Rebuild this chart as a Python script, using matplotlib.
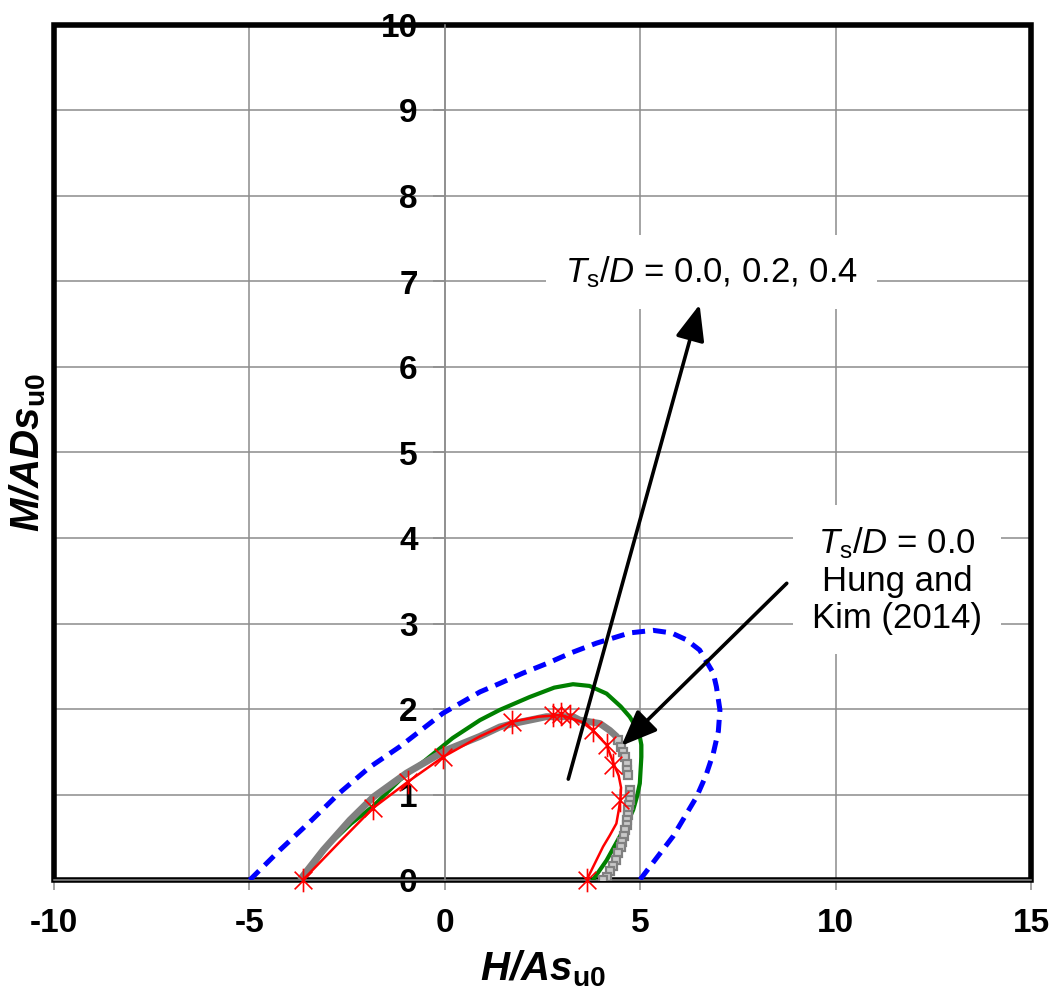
import matplotlib
matplotlib.use("Agg")
import matplotlib.pyplot as plt
from matplotlib.path import Path
from matplotlib.patches import Rectangle

plt.rcParams['font.family'] = ['Liberation Sans', 'DejaVu Sans']
plt.rcParams['axes.unicode_minus'] = False
plt.rcParams['mathtext.fontset'] = 'custom'
plt.rcParams['mathtext.rm'] = 'Liberation Sans'
plt.rcParams['mathtext.it'] = 'Liberation Sans:italic'
plt.rcParams['mathtext.bf'] = 'Liberation Sans:bold'
plt.rcParams['mathtext.bfit'] = 'Liberation Sans:bold:italic'

# ---------------- data ----------------
x_ticks = [-10, -5, 0, 5, 10, 15]
y_ticks = [0, 1, 2, 3, 4, 5, 6, 7, 8, 9, 10]

# Ts/D = 0.4 (blue dashed)
blue_x = [-4.99, -4.22, -3.45, -2.69, -1.92, -1.15, -0.05, 0.90, 1.41, 2.00, 2.60,
          3.25, 3.88, 4.73, 5.33, 5.80, 6.18, 6.52, 6.87, 6.95, 7.04, 7.00,
          6.87, 6.68, 6.44, 5.84, 4.99]
blue_y = [0.00, 0.35, 0.68, 1.02, 1.32, 1.56, 1.95, 2.20, 2.30, 2.42, 2.53,
          2.66, 2.77, 2.89, 2.92, 2.89, 2.81, 2.69, 2.42, 2.26, 1.99, 1.74,
          1.48, 1.22, 0.97, 0.51, 0.00]

# Ts/D = 0.2 (green)
green_x = [-3.65, -3.00, -2.40, -1.84, -1.15, -0.50, 0.20, 0.90, 1.41, 2.17,
           2.80, 3.28, 3.70, 4.14, 4.50, 4.73, 4.88, 4.98, 5.03, 5.03, 4.99, 4.92,
           4.82, 4.66, 4.48, 4.14, 3.79]
green_y = [0.00, 0.40, 0.66, 0.86, 1.17, 1.40, 1.66, 1.87, 1.99, 2.14,
           2.25, 2.29, 2.27, 2.18, 2.03, 1.91, 1.80, 1.70, 1.58, 1.44, 1.13, 0.98,
           0.82, 0.66, 0.51, 0.23, 0.00]

# Ts/D = 0.0 (grey, dense square markers)
grey_x = [-3.71, -3.11, -2.43, -1.83, -0.98, 0.04, 0.90, 1.41, 1.75, 2.60,
          3.28, 3.45, 3.97, 4.22, 4.39, 4.43]
grey_y = [0.00, 0.35, 0.70, 0.97, 1.25, 1.52, 1.68, 1.79, 1.83, 1.91,
          1.91, 1.87, 1.83, 1.75, 1.68, 1.64]
grey_mx = [4.43, 4.50, 4.56, 4.61, 4.65, 4.67, 4.69, 4.73, 4.73, 4.73, 4.72,
           4.70, 4.68, 4.67, 4.65, 4.62, 4.58, 4.54, 4.50, 4.44, 4.38, 4.31,
           4.22, 4.14, 4.04]
grey_my = [1.64, 1.56, 1.50, 1.44, 1.36, 1.29, 1.23, 1.05, 0.99, 0.94, 0.88,
           0.82, 0.76, 0.70, 0.64, 0.58, 0.51, 0.45, 0.39, 0.31, 0.23, 0.16,
           0.10, 0.04, 0.00]

# Hung and Kim (2014) (red line with asterisks)
red_x = [-3.63, -2.70, -1.84, -0.94, -0.04, 0.90, 1.71, 2.40, 2.98, 3.50,
         3.79, 4.14, 4.33, 4.45, 4.51, 4.50, 4.46, 4.39, 4.22, 4.05, 3.63]
red_y = [0.00, 0.44, 0.84, 1.15, 1.44, 1.68, 1.85, 1.91, 1.93, 1.85,
         1.75, 1.58, 1.35, 1.22, 1.08, 0.98, 0.84, 0.66, 0.52, 0.39, 0.00]
red_mx = [-3.63, -1.84, -0.94, -0.04, 1.71, 2.77, 2.98, 3.20, 3.79, 4.14, 4.31, 4.48, 3.63]
red_my = [0.00, 0.84, 1.15, 1.44, 1.85, 1.93, 1.94, 1.92, 1.75, 1.58, 1.35, 0.94, 0.00]

# annotations
label_all = r'$T_{\mathrm{s}}/D$ = 0.0, 0.2, 0.4'
label_hk = r'$T_{\mathrm{s}}/D$ = 0.0' + '\nHung and\nKim (2014)'
arrow1_tail, arrow1_tip = (3.16, 1.18), (6.52, 6.73)
arrow2_tail, arrow2_tip = (8.75, 3.47), (4.52, 1.57)
text1_pos = (6.83, 7.11)
text2_pos = (11.57, 3.51)

# ---------------- figure ----------------
fig = plt.figure(figsize=(10.57, 10.05), dpi=100)
ax = fig.add_axes([54/1057, 1 - 880/1005, (1031-54)/1057, (880-25)/1005])
ax.set_xlim(-10, 15)
ax.set_ylim(0, 10)

grid_c = '#8c8c8c'
ax.set_xticks(x_ticks)
ax.set_yticks(y_ticks)
ax.grid(True, color=grid_c, lw=1.1, zorder=0)
ax.set_axisbelow(True)

# y axis crossing at x = 0
ax.spines['left'].set_position(('data', 0))
ax.spines['left'].set_color(grid_c)
ax.spines['left'].set_linewidth(1.1)
ax.spines['bottom'].set_color(grid_c)
ax.spines['bottom'].set_linewidth(1.1)
ax.spines['bottom'].set_zorder(2.6)
ax.spines['top'].set_visible(False)
ax.spines['right'].set_visible(False)
ax.add_patch(Rectangle((0, 0), 1, 1, transform=ax.transAxes, fill=False,
                       ec='black', lw=4, zorder=2.4, clip_on=False))

ax.tick_params(axis='x', direction='out', length=7, width=1.1, color=grid_c,
               pad=13, labelsize=24)
ax.tick_params(axis='y', direction='out', length=8.5, width=1.1, color=grid_c,
               pad=11, labelsize=24)
for lab in ax.get_xticklabels() + ax.get_yticklabels():
    lab.set_fontweight('bold')

# series
ax.plot(blue_x, blue_y, color='#0000ff', lw=3.6, ls=(0, (2.6, 1.6)),
        dash_capstyle='butt', zorder=3)
ax.plot(green_x, green_y, color='#008000', lw=3, zorder=3.1)
ax.plot(grey_x, grey_y, color='#808080', lw=5, solid_capstyle='butt', zorder=3.2)
ax.plot(grey_mx, grey_my, ls='none', marker='s', ms=5.5, mec='#808080',
        mfc='#c8c8c8', mew=1.6, zorder=3.2)
ax.plot(red_x, red_y, color='#ff0000', lw=1.8, zorder=3.3)
ast = Path([(0, -1), (0, 1), (-0.75, -0.75), (0.75, 0.75), (-0.75, 0.75), (0.75, -0.75)],
           [Path.MOVETO, Path.LINETO, Path.MOVETO, Path.LINETO, Path.MOVETO, Path.LINETO])
ax.plot(red_mx, red_my, ls='none', marker=ast, ms=17, mec='#ff0000', mew=1.2,
        zorder=3.4, clip_on=False)

# arrows
for tail, tip in [(arrow1_tail, arrow1_tip), (arrow2_tail, arrow2_tip)]:
    ax.annotate('', xy=tip, xytext=tail,
                arrowprops=dict(arrowstyle='-|>,head_length=1.1,head_width=0.45',
                                mutation_scale=20, lw=2.6, color='black',
                                shrinkA=0, shrinkB=0), zorder=5)

box = dict(boxstyle='square,pad=0.55', fc='white', ec='none')
ax.text(*text1_pos, label_all, fontsize=25, ha='center', va='center',
        bbox=box, zorder=4)
ax.text(*text2_pos, label_hk, fontsize=25, ha='center', va='center',
        multialignment='center', linespacing=1.15, bbox=box, zorder=4)

ax.set_xlabel(r'$\mathbfit{H/As}_{\mathbf{u0}}$', fontsize=29)
ax.set_ylabel(r'$\mathbfit{M/ADs}_{\mathbf{u0}}$', fontsize=29)
ax.xaxis.set_label_coords(0.5, -0.08)
ax.yaxis.set_label_coords(-0.006, 0.5)

fig.savefig('out.png', dpi=100)
